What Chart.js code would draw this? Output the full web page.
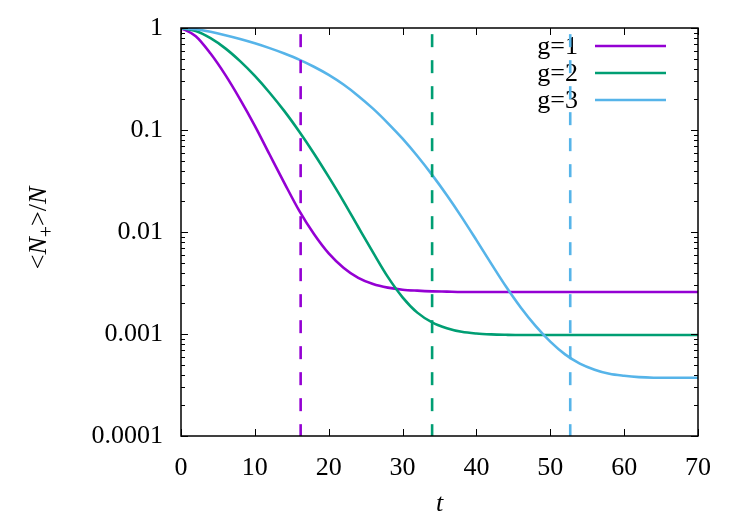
<!DOCTYPE html>
<html>
<head>
  <meta charset="UTF-8">
  <title>N+/N vs t</title>
  <script src="https://cdn.jsdelivr.net/npm/chart.js@4.4.1/dist/chart.umd.min.js"></script>
  <style>
    html, body { margin: 0; padding: 0; background: #fff; }
    #wrap { width: 747px; height: 523px; }
  </style>
</head>
<body>
  <div id="wrap"><canvas id="chart" width="747" height="523"></canvas></div>

  <script>
    // time points (every 2 units)
    const tValues = [0, 2, 4, 6, 8, 10, 12, 14, 16, 18, 20, 22, 24, 26, 28, 30, 32, 34,
                     36, 38, 40, 42, 44, 46, 48, 50, 52, 54, 56, 58, 60, 62, 64, 66, 68, 70];

    // <N+>/N for each g
    const g1Values = [1, 0.832, 0.562, 0.347, 0.200, 0.110, 0.0575, 0.0302, 0.0162, 0.00955,
                      0.00617, 0.00447, 0.00355, 0.00309, 0.00285, 0.00272, 0.00266, 0.00262,
                      0.00260, 0.00258, 0.00258, 0.00258, 0.00258, 0.00258, 0.00258, 0.00258,
                      0.00258, 0.00258, 0.00258, 0.00258, 0.00258, 0.00258, 0.00258, 0.00258,
                      0.00258, 0.00258];
    const g2Values = [1, 0.933, 0.794, 0.631, 0.473, 0.339, 0.232, 0.153, 0.0966, 0.0589,
                      0.0347, 0.0200, 0.0112, 0.00631, 0.00363, 0.00229, 0.00162, 0.00130,
                      0.00114, 0.00105, 0.00101, 0.000991, 0.000982, 0.000977, 0.000977,
                      0.000977, 0.000977, 0.000977, 0.000977, 0.000977, 0.000977, 0.000977,
                      0.000977, 0.000977, 0.000977, 0.000977];
    const g3Values = [1, 0.973, 0.918, 0.851, 0.780, 0.708, 0.635, 0.562, 0.490, 0.417,
                      0.347, 0.279, 0.216, 0.162, 0.117, 0.0822, 0.0556, 0.0363, 0.0229,
                      0.0140, 0.00832, 0.00490, 0.00292, 0.00182, 0.00120, 0.000841,
                      0.000631, 0.000513, 0.000447, 0.000407, 0.000389, 0.000378, 0.000373,
                      0.000372, 0.000372, 0.000372];

    const seriesLabels = ["g=1", "g=2", "g=3"];
    const seriesColors = ["#9400d3", "#009e73", "#56b4e9"];
    // vertical dashed markers, one per g
    const markerTimes = [16.2, 34.0, 52.7];
    const markerRange = [0.87, 0.0001];

    const yTickValues = [1, 0.1, 0.01, 0.001, 0.0001];
    const yTickLabels = ["1", "0.1", "0.01", "0.001", "0.0001"];
    const xTickValues = [0, 10, 20, 30, 40, 50, 60, 70];

    const FONT = "'Liberation Serif', 'Times New Roman', serif";

    const curves = [g1Values, g2Values, g3Values].map((vals, i) => ({
      label: seriesLabels[i],
      data: tValues.map((t, k) => ({ x: t, y: vals[k] })),
      borderColor: seriesColors[i],
      borderWidth: 2.6,
      pointRadius: 0,
      fill: false,
      cubicInterpolationMode: 'monotone',
      order: 3 - i,
      inLegend: true
    }));

    const markers = markerTimes.map((t, i) => ({
      label: "marker " + seriesLabels[i],
      data: markerRange.map(v => ({ x: t, y: v })),
      borderColor: seriesColors[i],
      borderWidth: 2.6,
      borderDash: [13, 13],
      pointRadius: 0,
      fill: false,
      order: 0,
      inLegend: false
    }));

    // frame, inward ticks, gnuplot-style legend and y title
    const gnuplotLook = {
      id: 'gnuplotLook',
      beforeDatasetsDraw(chart) {
        const ctx = chart.ctx;
        ctx.save();
        ctx.font = "26px " + FONT;
        ctx.textAlign = "right";
        ctx.textBaseline = "middle";
        let row = 0;
        chart.data.datasets.forEach(ds => {
          if (!ds.inLegend) return;
          const y = 46 + row * 27;
          ctx.fillStyle = "#000";
          ctx.fillText(ds.label, 578, y + 1);
          ctx.strokeStyle = ds.borderColor;
          ctx.lineWidth = 2.6;
          ctx.beginPath();
          ctx.moveTo(595, y);
          ctx.lineTo(666, y);
          ctx.stroke();
          row++;
        });
        ctx.restore();
      },
      afterDraw(chart) {
        const ctx = chart.ctx;
        const { left, right, top, bottom } = chart.chartArea;
        const xs = chart.scales.x, ys = chart.scales.y;
        ctx.save();
        ctx.strokeStyle = "#000";
        ctx.lineWidth = 1;
        ctx.beginPath();
        xTickValues.forEach(v => {
          const px = Math.round(xs.getPixelForValue(v)) + 0.5;
          ctx.moveTo(px, bottom); ctx.lineTo(px, bottom - 7);
          ctx.moveTo(px, top); ctx.lineTo(px, top + 7);
        });
        for (let e = -4; e <= 0; e++) {
          for (let k = 1; k <= 9; k++) {
            const v = k * Math.pow(10, e);
            if (v > 1) break;
            const len = k === 1 ? 7 : 4;
            const py = Math.round(ys.getPixelForValue(v)) + 0.5;
            ctx.moveTo(left, py); ctx.lineTo(left + len, py);
            ctx.moveTo(right, py); ctx.lineTo(right - len, py);
          }
        }
        ctx.stroke();
        ctx.lineWidth = 1.5;
        ctx.strokeRect(left, top, right - left, bottom - top);

        // y title: <N_+>/N
        const parts = [
          { t: "<", f: "26px " + FONT, dy: 0 },
          { t: "N", f: "italic 26px " + FONT, dy: 0 },
          { t: "+", f: "20px " + FONT, dy: 7 },
          { t: ">/", f: "26px " + FONT, dy: 0 },
          { t: "N", f: "italic 26px " + FONT, dy: 0 }
        ];
        let total = 0;
        parts.forEach(p => { ctx.font = p.f; p.w = ctx.measureText(p.t).width; total += p.w; });
        ctx.translate(46, 228);
        ctx.rotate(-Math.PI / 2);
        ctx.fillStyle = "#000";
        ctx.textAlign = "left";
        ctx.textBaseline = "alphabetic";
        let cx = -total / 2;
        parts.forEach(p => {
          ctx.font = p.f;
          ctx.fillText(p.t, cx, p.dy);
          cx += p.w;
        });
        ctx.restore();
      }
    };

    function noPadding(scale) {
      scale.paddingLeft = 0; scale.paddingRight = 0;
      scale.paddingTop = 0; scale.paddingBottom = 0;
    }

    new Chart(document.getElementById("chart").getContext("2d"), {
      type: 'line',
      data: { datasets: curves.concat(markers) },
      options: {
        responsive: false,
        animation: false,
        devicePixelRatio: 1,
        layout: { padding: { top: 28, right: 49, left: 0, bottom: 0 } },
        plugins: {
          legend: { display: false },
          tooltip: { enabled: false }
        },
        scales: {
          x: {
            type: 'linear',
            min: 0,
            max: 70,
            grid: { display: false, drawTicks: false },
            border: { display: false },
            afterBuildTicks: s => { s.ticks = xTickValues.map(v => ({ value: v })); },
            ticks: {
              color: "#000",
              font: { family: FONT, size: 26 },
              padding: 17,
              maxRotation: 0,
              callback: v => String(v)
            },
            title: {
              display: true,
              text: "t",
              color: "#000",
              font: { family: FONT, size: 26, style: 'italic' },
              padding: { top: 0, bottom: 3 }
            },
            afterFit: s => { s.height = 87; noPadding(s); }
          },
          y: {
            type: 'logarithmic',
            min: 0.0001,
            max: 1,
            grid: { display: false, drawTicks: false },
            border: { display: false },
            afterBuildTicks: s => { s.ticks = yTickValues.map(v => ({ value: v })); },
            ticks: {
              color: "#000",
              font: { family: FONT, size: 26 },
              padding: 18,
              callback: v => yTickLabels[yTickValues.indexOf(v)] ?? ""
            },
            afterFit: s => { s.width = 181; noPadding(s); }
          }
        }
      },
      plugins: [gnuplotLook]
    });
  </script>
</body>
</html>
